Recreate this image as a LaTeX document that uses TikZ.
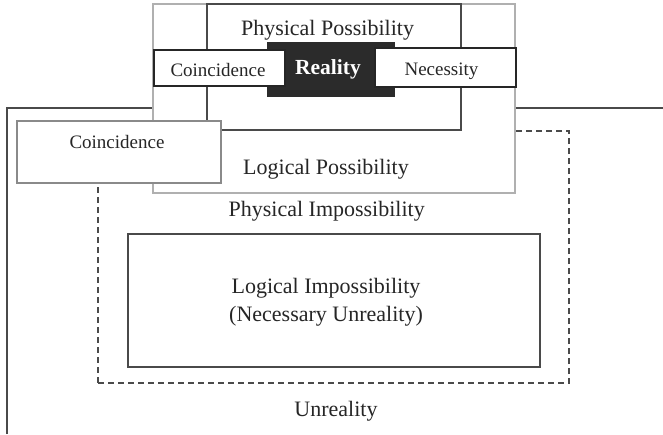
\documentclass[tikz,border=0pt]{standalone}
\usepackage{fontspec}
\setmainfont{Liberation Serif}
\begin{document}
\begin{tikzpicture}[x=1pt,y=-1pt,
  every node/.style={inner sep=0pt, outer sep=0pt},
  region/.style={draw, fill=white, line width=1.1pt, rectangle},
  biglabel/.style={anchor=base, text=ink, font=\fontsize{22}{26}\selectfont},
  smalllabel/.style={anchor=base, text=ink, font=\fontsize{19}{23}\selectfont},
]
\definecolor{ink}{HTML}{262626}
\definecolor{lightframe}{HTML}{B0B0B0}
\definecolor{midframe}{HTML}{8A8A8A}
\definecolor{darkframe}{HTML}{4A4A4A}
\definecolor{realfill}{HTML}{2B2B2B}

% canvas
\useasboundingbox (0,0) rectangle (663,434);

% outer boundary of unreality
\coordinate (ubottom) at (7,434);
\coordinate (ucorner) at (7,108);
\coordinate (uright) at (663,108);
\draw[darkframe, line width=1.1pt] (ubottom) -- (ucorner) -- (uright);

% physical impossibility (dashed)
\node[draw=darkframe, line width=1.1pt, dash pattern=on 6pt off 4pt,
      minimum width=471pt, minimum height=252pt] (physimp) at (333.5,257) {};

% logical impossibility
\node[region, draw=darkframe, minimum width=412pt, minimum height=133pt] (logimp) at (334,300.5) {};

% logical possibility
\node[region, draw=lightframe, minimum width=362pt, minimum height=189pt] (logpos) at (334,98.5) {};

% physical possibility
\node[region, draw=darkframe, minimum width=254pt, minimum height=126pt] (physpos) at (334,67) {};

% reality
\node[fill=realfill, minimum width=128pt, minimum height=55pt] (reality) at (331,69.5) {};

% coincidence and necessity bands
\node[region, draw=ink, minimum width=131pt, minimum height=36pt] (coinA) at (219.5,68) {};
\node[region, draw=ink, minimum width=141pt, minimum height=39pt] (necess) at (445.5,67.5) {};

% coincidence outside physical possibility
\node[region, draw=midframe, minimum width=204pt, minimum height=62pt] (coinB) at (119,152) {};

% labels
\node[biglabel] (tPP) at (327.5,35) {Physical Possibility};
\node[smalllabel] (tCA) at (218,76) {Coincidence};
\node[anchor=base, text=white, font=\fontsize{21.5}{26}\selectfont\bfseries] (tR) at (328,74) {Reality};
\node[smalllabel] (tN) at (441.5,75) {Necessity};
\node[biglabel] (tLP) at (326,174) {Logical Possibility};
\node[smalllabel] (tCB) at (117,148) {Coincidence};
\node[biglabel] (tPI) at (326.7,216.7) {Physical Impossibility};
\node[biglabel] (tLI) at (326,293) {Logical Impossibility};
\node[biglabel] (tNU) at (326,321.7) {(Necessary Unreality)};
\node[biglabel] (tU) at (336,416.7) {Unreality};
\end{tikzpicture}
\end{document}
